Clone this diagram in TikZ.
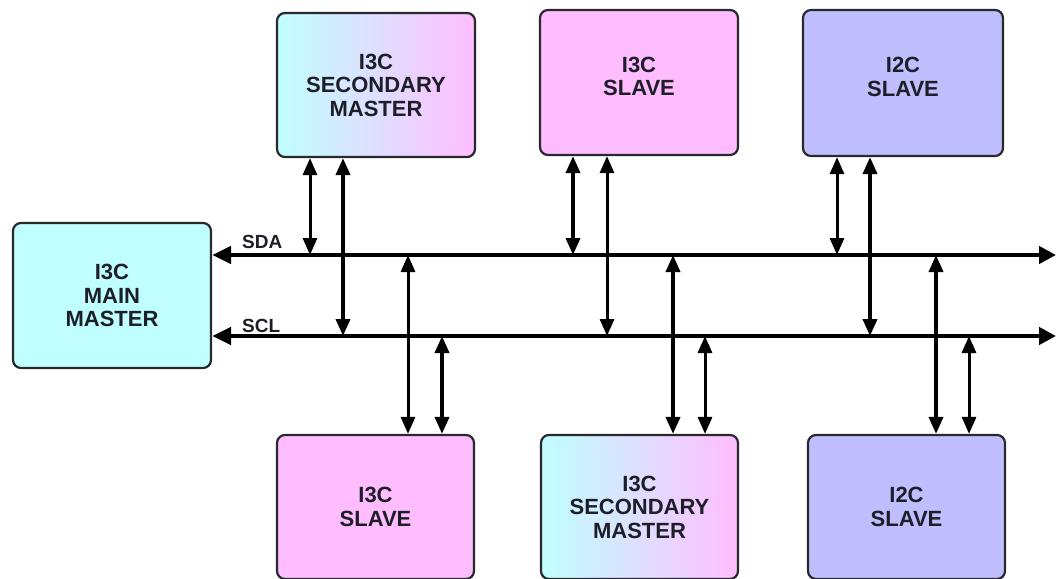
\documentclass[tikz,border=0pt]{standalone}
\usepackage{fontspec}
\setmainfont{Liberation Sans}
\usetikzlibrary{arrows.meta,calc}
\definecolor{cy}{RGB}{191,255,255}
\definecolor{pk}{RGB}{255,189,255}
\definecolor{lv}{RGB}{191,191,255}
\definecolor{bd}{RGB}{40,40,45}
\definecolor{tx}{RGB}{30,30,40}
\tikzset{
  box/.style={rectangle, rounded corners=8pt, draw=bd, line width=2.2pt, inner sep=0pt,
    align=center, text=tx, font=\fontsize{22}{23.5}\selectfont\bfseries},
  lbl/.style={inner sep=0pt, align=center, text=tx, font=\fontsize{22}{23.5}\selectfont\bfseries},
  grad/.style={left color=cy, right color=pk, shading angle=90},
  bus/.style={line width=4.5pt, {Triangle[length=19pt,width=17pt]}-{Triangle[length=17pt,width=17pt]}},
  vc/.style={line width=3pt, {Triangle[length=17pt,width=14pt]}-{Triangle[length=17pt,width=14pt]}},
  vcb/.style={line width=3.6pt, {Triangle[length=17pt,width=14pt]}-{Triangle[length=17pt,width=14pt]}},
  buslbl/.style={inner sep=0pt, anchor=south west, text=tx, font=\fontsize{19}{20}\selectfont\bfseries}
}
\begin{document}
\begin{tikzpicture}[x=1pt,y=-1pt]
\useasboundingbox[fill=white] (0,0) rectangle (1056,578);
% boxes
\node[box, grad, minimum width=198pt, minimum height=144pt] (tsm) at (376,85) {I3C\\SECONDARY\\MASTER};
\node[box, fill=pk, minimum width=198pt, minimum height=145pt] (tsl) at (639,82.5) {};
\node[lbl] (tslt) at ([yshift=6pt]tsl.center) {I3C\\SLAVE};
\node[box, fill=lv, minimum width=200pt, minimum height=146pt] (ti2) at (903,83) {};
\node[lbl] (ti2t) at ([yshift=6pt]ti2.center) {I2C\\SLAVE};
\node[box, fill=cy, minimum width=198pt, minimum height=145pt] (mm) at (112,295.5) {I3C\\MAIN\\MASTER};
\node[box, fill=pk, minimum width=197pt, minimum height=144pt] (bsl) at (375.5,507) {I3C\\SLAVE};
\node[box, grad, minimum width=197pt, minimum height=144pt] (bsm) at (639.5,507) {I3C\\SECONDARY\\MASTER};
\node[box, fill=lv, minimum width=197pt, minimum height=144pt] (bi2) at (906.5,507) {I2C\\SLAVE};
% bus coordinates
\coordinate (sda) at (1056,255);
\coordinate (scl) at (1056,336);
\draw[bus] (mm.east |- sda) -- (sda);
\draw[bus] (mm.east |- scl) -- (scl);
\node[buslbl] (sdal) at (242,249) {SDA};
\node[buslbl] (scll) at (242,333) {SCL};
% top connectors
\draw[vc]  (310,0 |- tsm.south) -- (310,0 |- sda);
\draw[vcb] (343,0 |- tsm.south) -- (343,0 |- scl);
\draw[vcb] (573,0 |- tsl.south) -- (573,0 |- sda);
\draw[vc]  (607,0 |- tsl.south) -- (607,0 |- scl);
\draw[vc]  (837,0 |- ti2.south) -- (837,0 |- sda);
\draw[vcb] (870,0 |- ti2.south) -- (870,0 |- scl);
% bottom connectors
\draw[vc]  (408,0 |- sda) -- (408,0 |- bsl.north);
\draw[vcb] (442,0 |- scl) -- (442,0 |- bsl.north);
\draw[vcb] (673,0 |- sda) -- (673,0 |- bsm.north);
\draw[vc]  (705,0 |- scl) -- (705,0 |- bsm.north);
\draw[vcb] (936,0 |- sda) -- (936,0 |- bi2.north);
\draw[vc]  (969,0 |- scl) -- (969,0 |- bi2.north);
\end{tikzpicture}
\end{document}
